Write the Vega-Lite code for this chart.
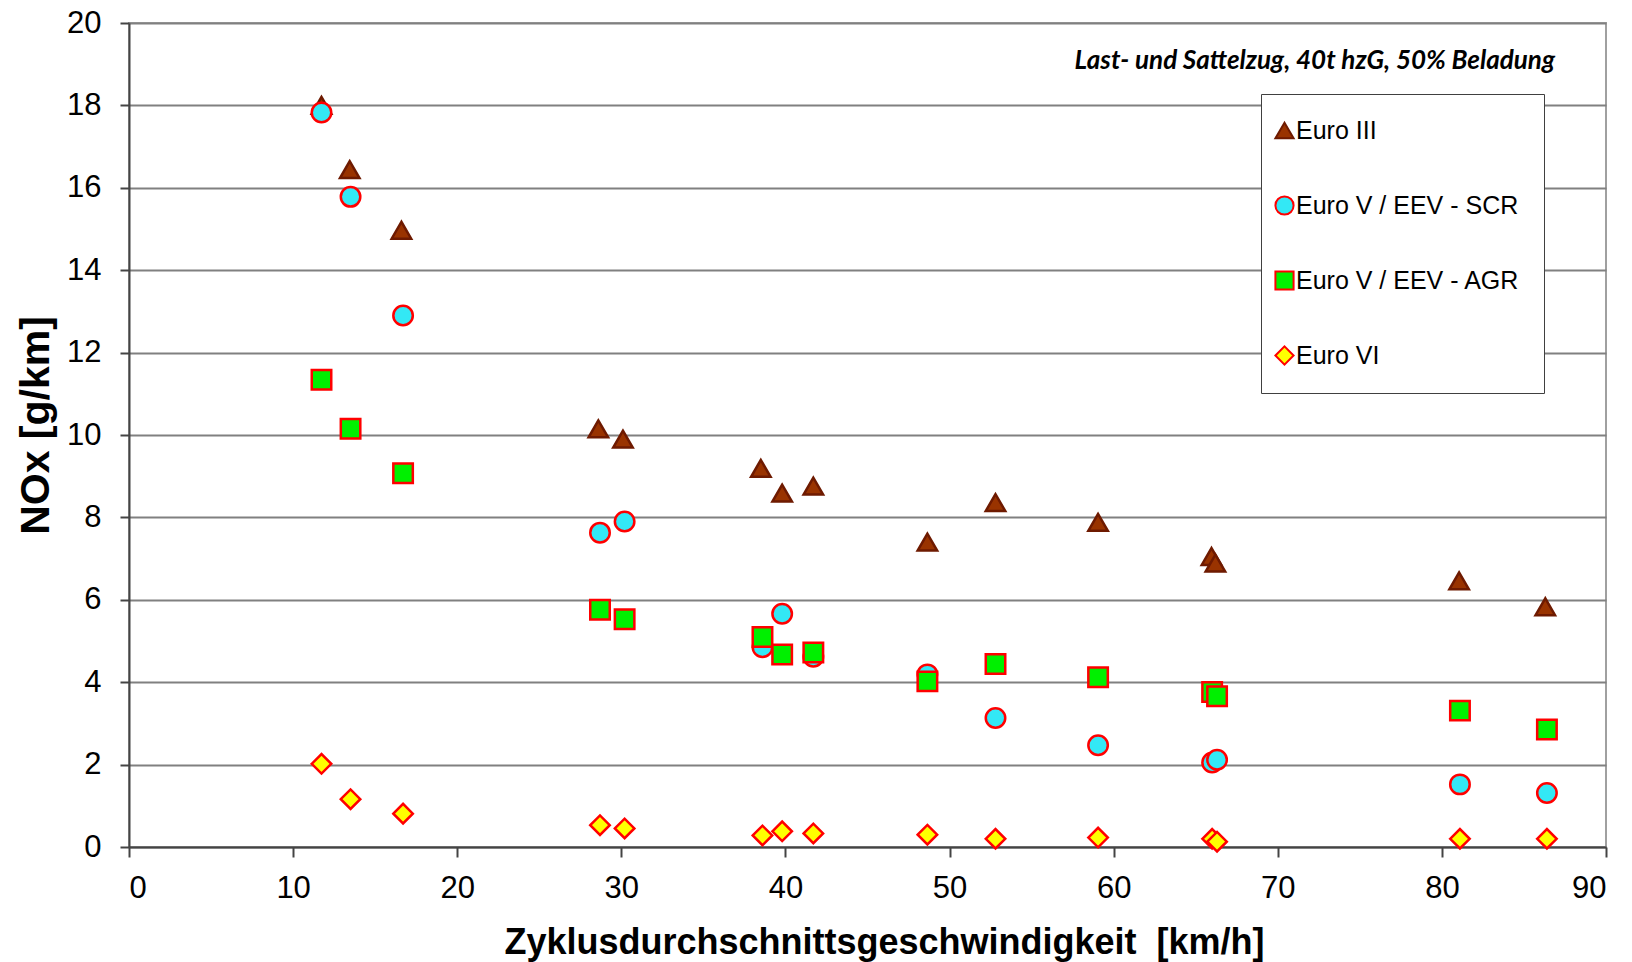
{
  "$schema": "https://vega.github.io/schema/vega-lite/v6.json",
  "width": 1477,
  "height": 824,
  "autosize": {"type": "none"},
  "padding": {"left": 129, "top": 23, "right": 26, "bottom": 115},
  "background": "white",
  "title": {
    "text": "Last- und Sattelzug, 40t hzG, 50% Beladung",
    "orient": "top",
    "anchor": "end",
    "frame": "group",
    "offset": -36,
    "dx": -51,
    "dy": 44,
    "baseline": "middle",
    "font": "Lato",
    "fontSize": 26,
    "fontStyle": "italic",
    "fontWeight": "bold",
    "color": "black"
  },
  "config": {
    "view": {"stroke": "#a0a0a0", "strokeWidth": 2},
    "axis": {
      "labelFont": "Liberation Sans",
      "labelFontSize": 31,
      "labelColor": "black",
      "titleFont": "Liberation Sans",
      "titleFontSize": 36,
      "titleFontWeight": "bold",
      "titleColor": "black",
      "domainColor": "#444444",
      "domainWidth": 2,
      "tickColor": "#444444",
      "tickWidth": 2
    }
  },
  "data": {
    "values": [
      {"v": 11.73, "nox": 18.0, "s": "Euro III"},
      {"v": 13.45, "nox": 16.44, "s": "Euro III"},
      {"v": 16.6, "nox": 14.97, "s": "Euro III"},
      {"v": 28.6, "nox": 10.15, "s": "Euro III"},
      {"v": 30.1, "nox": 9.9, "s": "Euro III"},
      {"v": 38.5, "nox": 9.19, "s": "Euro III"},
      {"v": 39.8, "nox": 8.59, "s": "Euro III"},
      {"v": 41.7, "nox": 8.76, "s": "Euro III"},
      {"v": 48.65, "nox": 7.4, "s": "Euro III"},
      {"v": 52.8, "nox": 8.36, "s": "Euro III"},
      {"v": 59.05, "nox": 7.88, "s": "Euro III"},
      {"v": 65.96, "nox": 7.05, "s": "Euro III"},
      {"v": 66.2, "nox": 6.89, "s": "Euro III"},
      {"v": 81.05, "nox": 6.46, "s": "Euro III"},
      {"v": 86.3, "nox": 5.83, "s": "Euro III"},
      {"v": 11.73, "nox": 17.83, "s": "Euro V / EEV - SCR"},
      {"v": 13.5, "nox": 15.78, "s": "Euro V / EEV - SCR"},
      {"v": 16.7, "nox": 12.9, "s": "Euro V / EEV - SCR"},
      {"v": 28.7, "nox": 7.63, "s": "Euro V / EEV - SCR"},
      {"v": 30.2, "nox": 7.9, "s": "Euro V / EEV - SCR"},
      {"v": 38.6, "nox": 4.85, "s": "Euro V / EEV - SCR"},
      {"v": 39.8, "nox": 5.66, "s": "Euro V / EEV - SCR"},
      {"v": 41.7, "nox": 4.62, "s": "Euro V / EEV - SCR"},
      {"v": 48.65, "nox": 4.19, "s": "Euro V / EEV - SCR"},
      {"v": 52.8, "nox": 3.13, "s": "Euro V / EEV - SCR"},
      {"v": 59.05, "nox": 2.47, "s": "Euro V / EEV - SCR"},
      {"v": 66.0, "nox": 2.05, "s": "Euro V / EEV - SCR"},
      {"v": 66.3, "nox": 2.12, "s": "Euro V / EEV - SCR"},
      {"v": 81.1, "nox": 1.52, "s": "Euro V / EEV - SCR"},
      {"v": 86.4, "nox": 1.31, "s": "Euro V / EEV - SCR"},
      {"v": 11.73, "nox": 11.34, "s": "Euro V / EEV - AGR"},
      {"v": 13.5, "nox": 10.15, "s": "Euro V / EEV - AGR"},
      {"v": 16.7, "nox": 9.07, "s": "Euro V / EEV - AGR"},
      {"v": 28.7, "nox": 5.76, "s": "Euro V / EEV - AGR"},
      {"v": 30.2, "nox": 5.53, "s": "Euro V / EEV - AGR"},
      {"v": 38.6, "nox": 5.1, "s": "Euro V / EEV - AGR"},
      {"v": 39.8, "nox": 4.67, "s": "Euro V / EEV - AGR"},
      {"v": 41.7, "nox": 4.72, "s": "Euro V / EEV - AGR"},
      {"v": 48.65, "nox": 4.02, "s": "Euro V / EEV - AGR"},
      {"v": 52.8, "nox": 4.44, "s": "Euro V / EEV - AGR"},
      {"v": 59.05, "nox": 4.12, "s": "Euro V / EEV - AGR"},
      {"v": 66.0, "nox": 3.76, "s": "Euro V / EEV - AGR"},
      {"v": 66.3, "nox": 3.66, "s": "Euro V / EEV - AGR"},
      {"v": 81.1, "nox": 3.31, "s": "Euro V / EEV - AGR"},
      {"v": 86.4, "nox": 2.85, "s": "Euro V / EEV - AGR"},
      {"v": 11.73, "nox": 2.02, "s": "Euro VI"},
      {"v": 13.5, "nox": 1.16, "s": "Euro VI"},
      {"v": 16.7, "nox": 0.81, "s": "Euro VI"},
      {"v": 28.7, "nox": 0.53, "s": "Euro VI"},
      {"v": 30.2, "nox": 0.45, "s": "Euro VI"},
      {"v": 38.6, "nox": 0.28, "s": "Euro VI"},
      {"v": 39.8, "nox": 0.38, "s": "Euro VI"},
      {"v": 41.7, "nox": 0.33, "s": "Euro VI"},
      {"v": 48.65, "nox": 0.3, "s": "Euro VI"},
      {"v": 52.8, "nox": 0.2, "s": "Euro VI"},
      {"v": 59.05, "nox": 0.23, "s": "Euro VI"},
      {"v": 66.0, "nox": 0.2, "s": "Euro VI"},
      {"v": 66.3, "nox": 0.13, "s": "Euro VI"},
      {"v": 81.1, "nox": 0.2, "s": "Euro VI"},
      {"v": 86.4, "nox": 0.2, "s": "Euro VI"}
    ]
  },
  "mark": {"type": "point", "filled": true, "size": 380, "strokeWidth": 2.5, "opacity": 1, "clip": false},
  "encoding": {
    "x": {
      "field": "v",
      "type": "quantitative",
      "scale": {"domain": [0, 90], "nice": false},
      "axis": {
        "values": [0, 10, 20, 30, 40, 50, 60, 70, 80, 90],
        "grid": false,
        "tickSize": 10,
        "labelPadding": 16,
        "title": "Zyklusdurchschnittsgeschwindigkeit\u00a0 [km/h]",
        "titleX": 755,
        "titleY": 106,
        "titleBaseline": "alphabetic"
      }
    },
    "y": {
      "field": "nox",
      "type": "quantitative",
      "scale": {"domain": [0, 20], "nice": false},
      "axis": {
        "values": [0, 2, 4, 6, 8, 10, 12, 14, 16, 18, 20],
        "grid": true,
        "gridColor": "#808080",
        "gridWidth": 2,
        "tickSize": 9,
        "labelPadding": 19,
        "title": "NOx [g/km]",
        "titleFontSize": 41,
        "titleX": -93,
        "titleY": 402,
        "titleBaseline": "middle"
      }
    },
    "shape": {
      "field": "s",
      "type": "nominal",
      "scale": {
        "domain": ["Euro III", "Euro V / EEV - SCR", "Euro V / EEV - AGR", "Euro VI"],
        "range": ["triangle-up", "circle", "square", "diamond"]
      },
      "legend": {
        "title": null,
        "orient": "none",
        "legendX": 1132,
        "legendY": 71,
        "padding": 24,
        "rowPadding": 48,
        "fillColor": "white",
        "strokeColor": "#404040",
        "labelFont": "Liberation Sans",
        "labelFontSize": 25,
        "labelLimit": 500,
        "labelColor": "black",
        "symbolOffset": -13,
        "labelOffset": -1,
        "symbolSize": 330,
        "symbolStrokeWidth": 2,
        "symbolOpacity": 1
      }
    },
    "fill": {
      "field": "s",
      "type": "nominal",
      "scale": {
        "domain": ["Euro III", "Euro V / EEV - SCR", "Euro V / EEV - AGR", "Euro VI"],
        "range": ["#993300", "#33e8f5", "#00f000", "#ffff00"]
      },
      "legend": null
    },
    "stroke": {
      "field": "s",
      "type": "nominal",
      "scale": {
        "domain": ["Euro III", "Euro V / EEV - SCR", "Euro V / EEV - AGR", "Euro VI"],
        "range": ["#6e1a00", "#ff0000", "#ff0000", "#ff0000"]
      },
      "legend": null
    }
  }
}
